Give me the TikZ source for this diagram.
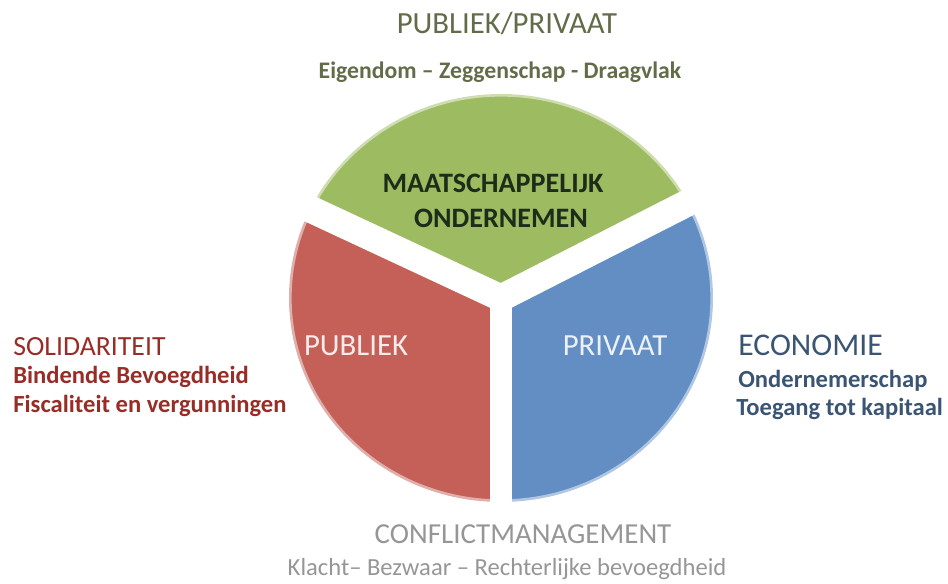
\documentclass[tikz,border=0pt]{standalone}
\usepackage{fontspec}
\setmainfont{Carlito}
\definecolor{pubgreen}{RGB}{157,187,97}
\definecolor{pubred}{RGB}{196,96,88}
\definecolor{pubblue}{RGB}{98,142,196}
\definecolor{olivetext}{RGB}{98,108,72}
\definecolor{darktext}{RGB}{30,45,25}
\definecolor{redtext}{RGB}{152,44,38}
\definecolor{bluetext}{RGB}{58,84,114}
\definecolor{graytext}{RGB}{150,150,150}
\begin{document}
\begin{tikzpicture}[x=0.02cm, y=0.02cm,
    gap/.style = {white, line width=0.54cm},
    title/.style = {inner sep=0, font=\fontsize{16.5}{19}\selectfont},
    sub/.style = {inner sep=0, font=\fontsize{14}{16}\selectfont\bfseries}]
  \useasboundingbox (0, 0) rectangle (948, 583);
  \coordinate (c) at (501, 285);
  % the three parts of the disc
  \begin{scope}
    \clip (c) ellipse [x radius=212, y radius=204];
    \fill [pubgreen] (c) -- +(27:400) -- +(90:400) -- +(155:400) -- cycle;
    \fill [pubred] (c) -- +(155:400) -- +(212:400) -- +(270:400) -- cycle;
    \fill [pubblue] (c) -- +(270:400) -- +(330:400) -- +(27:400) -- cycle;
  \end{scope}
  \draw [white, opacity=0.5, line width=3pt] (c) ellipse [x radius=212, y radius=204];
  \draw [gap] (c) -- +(155:300);
  \draw [gap] (c) -- +(27:300);
  \draw [gap, line width=0.44cm] (c) -- +(270:300);
  % labels inside
  \node [title, font=\fontsize{16}{19}\selectfont\bfseries, darktext, anchor=base] (maat) at (493, 391) {MAATSCHAPPELIJK};
  \node [title, font=\fontsize{16}{19}\selectfont\bfseries, darktext, anchor=base] (onder) at (501, 356) {ONDERNEMEN};
  \node [title, font=\fontsize{17.5}{19}\selectfont, white!88!pubred, anchor=base] (publiek) at (356, 228) {PUBLIEK};
  \node [title, font=\fontsize{17.5}{19}\selectfont, white!88!pubblue, anchor=base] (privaat) at (615, 228) {PRIVAAT};
  % top
  \node [title, font=\fontsize{17.5}{19}\selectfont, olivetext, anchor=base] (pubpriv) at (507, 550) {PUBLIEK/PRIVAAT};
  \node [sub, font=\fontsize{13.5}{16}\selectfont\bfseries, olivetext, anchor=base] (eigen) at (500, 505) {Eigendom -- Zeggenschap - Draagvlak};
  % left
  \node [title, font=\fontsize{15.8}{19}\selectfont, redtext, anchor=base west] (solid) at (13, 228) {SOLIDARITEIT};
  \node [sub, redtext, anchor=base west] (bind) at (13, 200) {Bindende Bevoegdheid};
  \node [sub, redtext, anchor=base west] (fisc) at (13, 171) {Fiscaliteit en vergunningen};
  % right
  \node [title, font=\fontsize{18}{19}\selectfont, bluetext, anchor=base west] (econ) at (738, 228) {ECONOMIE};
  \node [sub, bluetext, anchor=base west] (onderschap) at (738, 196) {Ondernemerschap};
  \node [sub, bluetext, anchor=base west] (toegang) at (736, 168) {Toegang tot kapitaal};
  % bottom
  \node [title, graytext, anchor=base] (conflict) at (523, 40) {CONFLICTMANAGEMENT};
  \node [inner sep=0, font=\fontsize{14}{16}\selectfont, graytext, anchor=base] (klacht) at (507, 8) {Klacht-- Bezwaar -- Rechterlijke bevoegdheid};
\end{tikzpicture}
\end{document}
